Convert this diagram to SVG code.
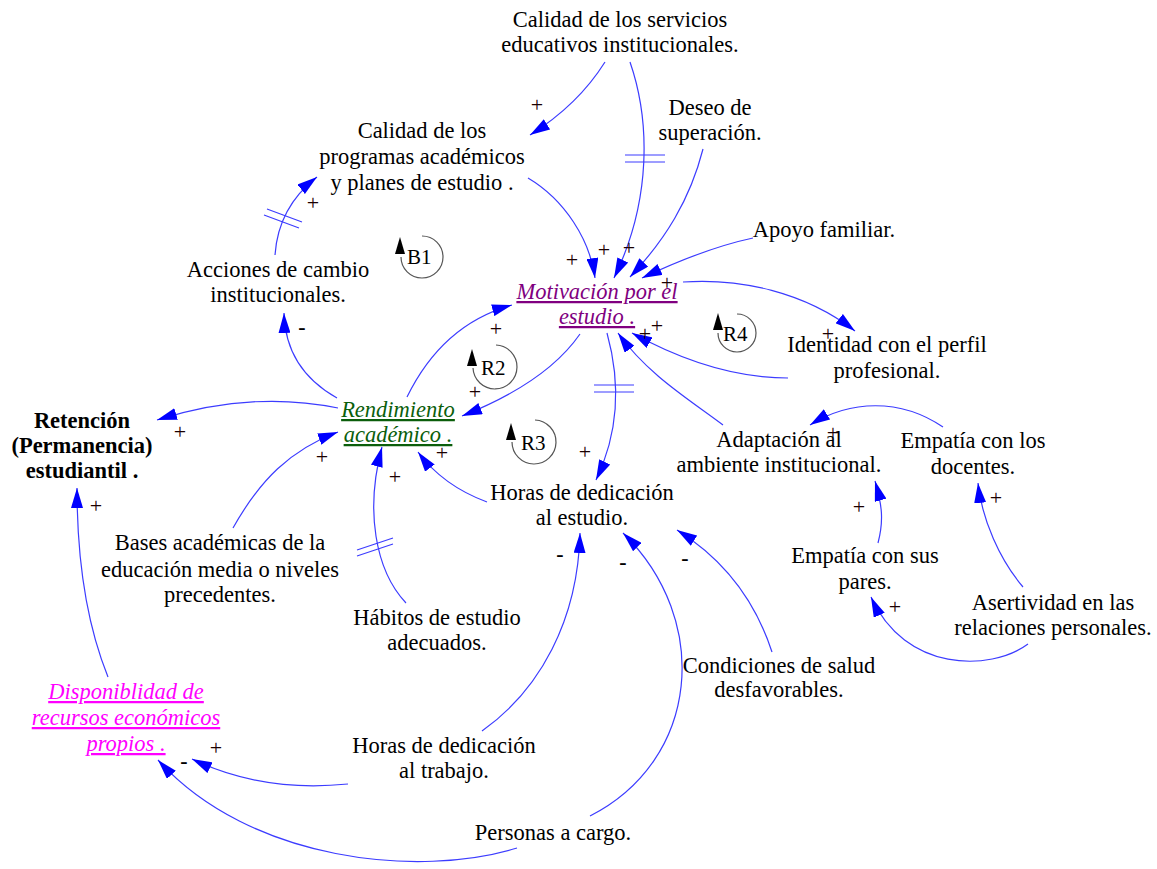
<svg xmlns="http://www.w3.org/2000/svg" width="1157" height="869" viewBox="0 0 1157 869" font-family="'Liberation Serif', 'Times New Roman', Times, serif">
<style>
.t{font-size:22.5px;text-anchor:middle;fill:#000}
.b{font-weight:bold}
.i{font-style:italic;text-decoration:underline}
.mot{fill:#800080}
.ren{fill:#0b5e0b}
.dis{fill:#ff00ff}
.p{font-size:22px;text-anchor:middle;fill:#1a0000}
.m{font-size:22px;font-weight:bold;text-anchor:middle;fill:#000}
.c{fill:none;stroke:#3c3cff;stroke-width:1.2}
.d{fill:none;stroke:#3c3cff;stroke-width:1.2}
.lp{fill:none;stroke:#555;stroke-width:1.2}
.lt{font-size:21px;fill:#000}
</style>
<defs>
<marker id="ah" viewBox="0 0 20 12" refX="20" refY="6" markerWidth="20" markerHeight="12" markerUnits="userSpaceOnUse" orient="auto">
<path d="M0,0 L20,6 L0,12 Z" fill="#0000ff"/>
</marker>
</defs>

<g id="connectors">
<path class="c" marker-end="url(#ah)" d="M605,62 Q578,105 530,135"/>
<path class="c" marker-end="url(#ah)" d="M630,62 C650,120 652,200 614,278"/>
<path class="c" marker-end="url(#ah)" d="M528,178 C565,200 590,240 595,278"/>
<path class="c" marker-end="url(#ah)" d="M703,149 C690,200 665,240 630,277"/>
<path class="c" marker-end="url(#ah)" d="M753,238 C720,245 680,260 642,278"/>
<path class="c" marker-end="url(#ah)" d="M683,282 C740,278 805,292 855,331"/>
<path class="c" marker-end="url(#ah)" d="M788,378 C740,378 690,365 632,333"/>
<path class="c" marker-end="url(#ah)" d="M723,425 C690,400 648,375 618,333"/>
<path class="c" marker-end="url(#ah)" d="M607,333 C620,380 620,430 596,480"/>
<path class="c" marker-end="url(#ah)" d="M580,334 C555,370 510,397 462,416"/>
<path class="c" marker-end="url(#ah)" d="M407,397 C430,350 465,318 512,305"/>
<path class="c" marker-end="url(#ah)" d="M337,398 C305,380 285,352 284,313"/>
<path class="c" marker-end="url(#ah)" d="M275,255 C277,225 290,198 317,177"/>
<path class="c" marker-end="url(#ah)" d="M338,408 C280,396 220,400 157,420"/>
<path class="c" marker-end="url(#ah)" d="M233,528 C260,480 290,450 338,432"/>
<path class="c" marker-end="url(#ah)" d="M406,603 C375,570 365,510 382,447"/>
<path class="c" marker-end="url(#ah)" d="M487,502 C460,492 435,475 418,452"/>
<path class="c" marker-end="url(#ah)" d="M482,731 C540,690 578,620 580,533"/>
<path class="c" marker-end="url(#ah)" d="M590,816 C700,760 712,620 623,533"/>
<path class="c" marker-end="url(#ah)" d="M772,652 C755,600 725,560 677,530"/>
<path class="c" marker-end="url(#ah)" d="M348,784 C290,790 240,782 192,759"/>
<path class="c" marker-end="url(#ah)" d="M517,848 C420,878 250,862 158,760"/>
<path class="c" marker-end="url(#ah)" d="M108,677 C85,620 77,550 77,488"/>
<path class="c" marker-end="url(#ah)" d="M943,427 C900,398 850,400 810,425"/>
<path class="c" marker-end="url(#ah)" d="M878,543 C884,520 882,505 875,481"/>
<path class="c" marker-end="url(#ah)" d="M1023,587 C1000,560 982,520 978,483"/>
<path class="c" marker-end="url(#ah)" d="M1028,644 C990,672 905,672 871,597"/>
<path class="d" d="M625,155 H665 M625,162 H665"/>
<path class="d" d="M594,385 H634 M594,392 H634"/>
<path class="d" d="M267,209 L302,222 M264,215 L299,228"/>
<path class="d" d="M357,550 L393,538 M357,556 L393,544"/>
<text class="p" x="537" y="112">+</text>
<text class="p" x="629" y="255">+</text>
<text class="p" x="604" y="257">+</text>
<text class="p" x="572" y="267">+</text>
<text class="p" x="667" y="290">+</text>
<text class="p" x="657" y="333">+</text>
<text class="p" x="645" y="341">+</text>
<text class="p" x="828" y="341">+</text>
<text class="p" x="585" y="459">+</text>
<text class="p" x="496" y="336">+</text>
<text class="p" x="475" y="399">+</text>
<text class="m" x="302" y="334">-</text>
<text class="p" x="313" y="210">+</text>
<text class="p" x="180" y="439">+</text>
<text class="p" x="322" y="464">+</text>
<text class="p" x="395" y="484">+</text>
<text class="p" x="442" y="460">+</text>
<text class="m" x="560" y="561">-</text>
<text class="m" x="623" y="569">-</text>
<text class="m" x="685" y="565">-</text>
<text class="p" x="216" y="755">+</text>
<text class="m" x="184" y="768">-</text>
<text class="p" x="96" y="513">+</text>
<text class="p" x="833" y="440">+</text>
<text class="p" x="859" y="514">+</text>
<text class="p" x="996" y="505">+</text>
<text class="p" x="895" y="614">+</text>
</g>

<g id="loop-B1">
<path class="lp" d="M422,236 A21,21 0 1 1 401,257"/>
<polygon points="400,237 395,254 405,254" fill="#000"/>
<text class="lt" x="407" y="264">B1</text>
</g>
<g id="loop-R2">
<path class="lp" d="M496,345 A22,22 0 1 1 473,368"/>
<polygon points="472,349 467,366 477,366" fill="#000"/>
<text class="lt" x="481" y="375">R2</text>
</g>
<g id="loop-R3">
<path class="lp" d="M535,420 A22,22 0 1 1 512,442"/>
<polygon points="511,423 506,440 516,440" fill="#000"/>
<text class="lt" x="521" y="450">R3</text>
</g>
<g id="loop-R4">
<path class="lp" d="M737,314 A19,19 0 1 1 718,333"/>
<polygon points="718,313 713,330 723,330" fill="#000"/>
<text class="lt" x="723" y="341">R4</text>
</g>

<g id="calidad-servicios"><text class="t" x="620" y="27">Calidad de los servicios</text><text class="t" x="620" y="52">educativos institucionales.</text></g>
<g id="calidad-programas"><text class="t" x="422" y="138">Calidad de los</text><text class="t" x="422" y="164">programas académicos</text><text class="t" x="422" y="190">y planes de estudio .</text></g>
<g id="deseo"><text class="t" x="710" y="115">Deseo de</text><text class="t" x="710" y="140">superación.</text></g>
<g id="apoyo"><text class="t" x="824" y="237">Apoyo familiar.</text></g>
<g id="motivacion"><text class="t i mot" x="597" y="299">Motivación por el</text><text class="t i mot" x="597" y="324">estudio .</text></g>
<g id="acciones"><text class="t" x="278" y="277">Acciones de cambio</text><text class="t" x="278" y="302">institucionales.</text></g>
<g id="retencion"><text class="t b" x="82" y="428">Retención</text><text class="t b" x="82" y="453">(Permanencia)</text><text class="t b" x="82" y="478">estudiantil .</text></g>
<g id="rendimiento"><text class="t i ren" x="398" y="417">Rendimiento</text><text class="t i ren" x="398" y="442">académico .</text></g>
<g id="identidad"><text class="t" x="887" y="352">Identidad con el perfil</text><text class="t" x="887" y="378">profesional.</text></g>
<g id="adaptacion"><text class="t" x="779" y="447">Adaptación al</text><text class="t" x="779" y="472">ambiente institucional.</text></g>
<g id="empatia-docentes"><text class="t" x="973" y="448">Empatía con los</text><text class="t" x="973" y="474">docentes.</text></g>
<g id="empatia-pares"><text class="t" x="865" y="563">Empatía con sus</text><text class="t" x="865" y="589">pares.</text></g>
<g id="asertividad"><text class="t" x="1053" y="610">Asertividad en las</text><text class="t" x="1053" y="635">relaciones personales.</text></g>
<g id="condiciones"><text class="t" x="779" y="673">Condiciones de salud</text><text class="t" x="779" y="697">desfavorables.</text></g>
<g id="horas-estudio"><text class="t" x="582" y="500">Horas de dedicación</text><text class="t" x="582" y="525">al estudio.</text></g>
<g id="bases"><text class="t" x="220" y="550">Bases académicas de la</text><text class="t" x="220" y="577">educación media o niveles</text><text class="t" x="220" y="602">precedentes.</text></g>
<g id="habitos"><text class="t" x="437" y="625">Hábitos de estudio</text><text class="t" x="437" y="650">adecuados.</text></g>
<g id="disponibilidad"><text class="t i dis" x="126" y="699">Disponiblidad de</text><text class="t i dis" x="126" y="725">recursos económicos</text><text class="t i dis" x="126" y="751">propios .</text></g>
<g id="horas-trabajo"><text class="t" x="444" y="753">Horas de dedicación</text><text class="t" x="444" y="778">al trabajo.</text></g>
<g id="personas"><text class="t" x="553" y="840">Personas a cargo.</text></g>
</svg>
